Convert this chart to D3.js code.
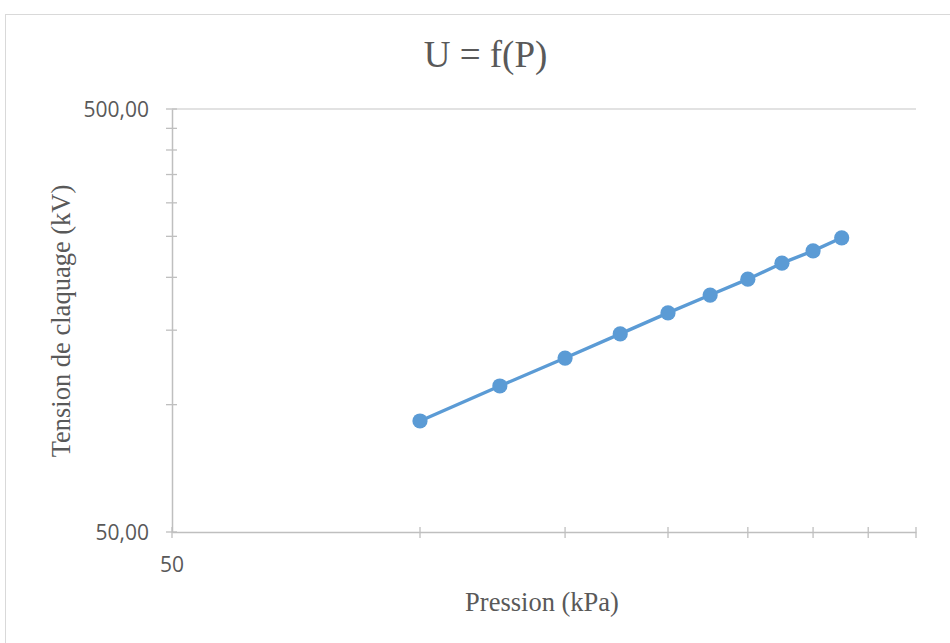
<!DOCTYPE html>
<html><head><meta charset="utf-8">
<script src="https://cdn.jsdelivr.net/npm/d3@7"></script>
<style>html,body{margin:0;padding:0;background:#fff;}</style>
</head><body>
<svg id="c" width="950" height="643"></svg>
<script>
const pression = [100, 125, 150, 175, 200, 225, 250, 275, 300, 325];
const tension = [91.5, 110.7, 128.9, 147, 164.8, 181.6, 198, 216, 231, 248];
const xMajorTicks = [50];
const xMinorTicks = [100, 150, 200, 250, 300, 350, 400];
const yMajorTicks = [50, 500];
const yMinorTicks = [100, 150, 200, 250, 300, 350, 400, 450];
const title = "U = f(P)";
const xTitle = "Pression (kPa)";
const yTitle = "Tension de claquage (kV)";

const svg = d3.select("#c");
svg.append("rect").attr("x",5.5).attr("y",14.5).attr("width",960).attr("height",660)
  .attr("fill","#fff").attr("stroke","#d9d9d9").attr("stroke-width",1);

const x = d3.scaleLog().domain([50,400]).range([172,916]);
const y = d3.scaleLog().domain([50,500]).range([532,109]);

svg.append("g").selectAll("line").data(yMajorTicks.filter(v=>v!==50)).join("line")
  .attr("x1",x(50)).attr("x2",x(400)).attr("y1",d=>y(d)).attr("y2",d=>y(d))
  .attr("stroke","#d9d9d9").attr("stroke-width",1.3);

const axisColor = "#bfbfbf";
const yAxis = d3.axisLeft(y).tickValues(yMajorTicks.concat(yMinorTicks)).tickSize(0).tickFormat("");
const gy = svg.append("g").attr("transform",`translate(${x(50)},0)`).call(yAxis);
gy.select(".domain").attr("stroke",axisColor).attr("stroke-width",1.5);
svg.append("g").selectAll("line").data(yMajorTicks.concat(yMinorTicks)).join("line")
  .attr("x1",x(50)-6).attr("x2",x(50)+5).attr("y1",d=>y(d)).attr("y2",d=>y(d))
  .attr("stroke",axisColor).attr("stroke-width",1.3);
svg.append("g").selectAll("text").data(yMajorTicks).join("text")
  .attr("x",149).attr("y",d=>y(d)).attr("dy","0.36em").attr("text-anchor","end")
  .attr("font-family","Open Sans").attr("font-size",21).attr("fill","#595959")
  .text(d=>d3.format(".2f")(d).replace(".",","));

const xAxis = d3.axisBottom(x).tickValues(xMajorTicks.concat(xMinorTicks)).tickSize(0).tickFormat("");
const gx = svg.append("g").attr("transform",`translate(0,${y(50)})`).call(xAxis);
gx.select(".domain").attr("stroke",axisColor).attr("stroke-width",1.5);
svg.append("g").selectAll("line").data(xMajorTicks.concat(xMinorTicks)).join("line")
  .attr("x1",d=>x(d)).attr("x2",d=>x(d)).attr("y1",y(50)-5).attr("y2",y(50)+6)
  .attr("stroke",axisColor).attr("stroke-width",1.3);
svg.append("g").selectAll("text").data(xMajorTicks).join("text")
  .attr("x",d=>x(d)).attr("y",572).attr("text-anchor","middle")
  .attr("font-family","Open Sans").attr("font-size",21).attr("fill","#595959")
  .text(d=>d);

const line = d3.line().x((d,i)=>x(pression[i])).y(d=>y(d));
svg.append("path").datum(tension).attr("d",line).attr("fill","none")
  .attr("stroke","#5b9bd5").attr("stroke-width",3.4).attr("stroke-linejoin","round");
svg.append("g").selectAll("circle").data(tension).join("circle")
  .attr("cx",(d,i)=>x(pression[i])).attr("cy",d=>y(d)).attr("r",7.6)
  .attr("fill","#5b9bd5");

svg.append("text").attr("x",485.5).attr("y",67).attr("text-anchor","middle")
  .attr("font-family","Liberation Serif").attr("font-size",37).attr("fill","#595959").text(title);
svg.append("text").attr("x",542).attr("y",611).attr("text-anchor","middle")
  .attr("font-family","Liberation Serif").attr("font-size",26.5).attr("fill","#595959").text(xTitle);
svg.append("text").attr("transform","translate(70,321) rotate(-90)").attr("text-anchor","middle")
  .attr("font-family","Liberation Serif").attr("font-size",26.5).attr("fill","#595959").text(yTitle);
</script>
</body></html>
